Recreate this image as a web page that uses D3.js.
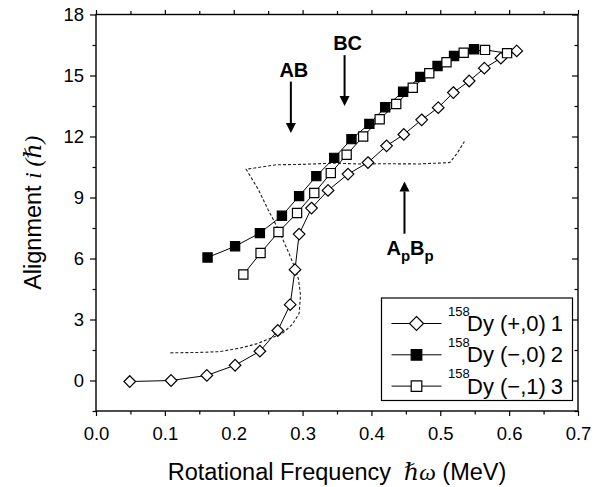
<!DOCTYPE html>
<html>
<head>
<meta charset="utf-8">
<script src="https://cdn.jsdelivr.net/npm/d3@7"></script>
<style>
  body { margin: 0; background: #fff; }
  text { font-family: "Liberation Sans", Arial, sans-serif; fill: #000; }
  .domain { display: none; }
</style>
</head>
<body>
<svg id="chart" width="604" height="487"></svg>
<script>
// 158Dy alignment vs rotational frequency

// band (+,0) 1 - open diamonds
const band1X = [0.049, 0.109, 0.161, 0.202, 0.238, 0.264, 0.282, 0.289, 0.295, 0.313, 0.337, 0.366, 0.395, 0.422, 0.447, 0.473, 0.497, 0.519, 0.542, 0.564, 0.588, 0.611];
const band1Y = [-0.05, 0.0, 0.25, 0.75, 1.44, 2.46, 3.73, 5.45, 7.2, 8.48, 9.35, 10.15, 10.72, 11.54, 12.1, 12.82, 13.42, 14.16, 14.73, 15.36, 15.85, 16.21];

// band (-,0) 2 - filled squares
const band2X = [0.162, 0.202, 0.238, 0.270, 0.295, 0.320, 0.346, 0.371, 0.397, 0.420, 0.446, 0.471, 0.496, 0.520, 0.549];
const band2Y = [6.05, 6.6, 7.25, 8.1, 9.07, 10.05, 10.95, 11.87, 12.62, 13.44, 14.2, 14.93, 15.47, 15.96, 16.29];

// band (-,1) 3 - open squares
const band3X = [0.214, 0.239, 0.265, 0.292, 0.317, 0.341, 0.364, 0.388, 0.412, 0.436, 0.460, 0.484, 0.509, 0.534, 0.565, 0.597];
const band3Y = [5.21, 6.27, 7.30, 8.24, 9.22, 10.2, 11.1, 12.0, 12.85, 13.6, 14.4, 15.11, 15.65, 16.12, 16.26, 16.1];

// dashed reference curve
const dashX = [0.108, 0.15, 0.18, 0.21, 0.233, 0.255, 0.27, 0.285, 0.295, 0.297, 0.294, 0.287, 0.278, 0.265, 0.25, 0.236, 0.218, 0.262, 0.30, 0.345, 0.38, 0.417, 0.47, 0.514, 0.525, 0.535];
const dashY = [1.36, 1.38, 1.42, 1.6, 1.8, 2.1, 2.3, 2.75, 3.3, 4.2, 5.0, 5.7, 6.43, 7.42, 8.4, 9.38, 10.39, 10.61, 10.63, 10.69, 10.65, 10.66, 10.65, 10.72, 11.2, 11.75];

// crossing arrows: x, tail y, tip y
const arrowLabels = ["AB", "BC", "ApBp"];
const arrowX = [0.283, 0.361, 0.448];
const arrowFrom = [14.7, 16.0, 7.22];
const arrowTo = [12.17, 13.5, 9.79];

const legendNames = ["(+,0)", "(\u2212,0)", "(\u2212,1)"];
const legendNums = ["1", "2", "3"];

const xMajor = [0, 0.1, 0.2, 0.3, 0.4, 0.5, 0.6, 0.7];
const xMinor = [0.05, 0.15, 0.25, 0.35, 0.45, 0.55, 0.65];
const yMajor = [0, 3, 6, 9, 12, 15, 18];
const yMinor = [-1.5, 1.5, 4.5, 7.5, 10.5, 13.5, 16.5];

const margin = { top: 14.5, right: 26, bottom: 76, left: 96 };
const W = 604, H = 487;

const svg = d3.select('#chart');

const x = d3.scaleLinear().domain([0, 0.7]).range([margin.left, W - margin.right]);
const y = d3.scaleLinear().domain([-1.5, 18]).range([H - margin.bottom, margin.top]);

const x0 = x.range()[0], x1 = x.range()[1];
const y0 = y.range()[0], y1 = y.range()[1];

// axes
function styleTicks(g) {
    g.selectAll('.tick line').attr('stroke', '#000').attr('stroke-width', 1.2);
}

svg.append('g').attr('transform', `translate(0,${y0})`)
    .call(d3.axisBottom(x).tickValues(xMajor).tickSize(5).tickPadding(11).tickFormat(d3.format('.1f')))
    .call(styleTicks)
    .selectAll('text').attr('font-size', 18.5).attr('font-family', '"Liberation Sans", Arial, sans-serif');
svg.append('g').attr('transform', `translate(0,${y0})`)
    .call(d3.axisBottom(x).tickValues(xMinor).tickSize(3.5).tickFormat(''))
    .call(styleTicks);
svg.append('g').attr('transform', `translate(0,${y1})`)
    .call(d3.axisTop(x).tickValues(xMajor).tickSize(4.5).tickFormat(''))
    .call(styleTicks);
svg.append('g').attr('transform', `translate(0,${y1})`)
    .call(d3.axisTop(x).tickValues(xMinor).tickSize(3.5).tickFormat(''))
    .call(styleTicks);

svg.append('g').attr('transform', `translate(${x0},0)`)
    .call(d3.axisLeft(y).tickValues(yMajor).tickSize(6).tickPadding(6))
    .call(styleTicks)
    .selectAll('text').attr('font-size', 18.5).attr('font-family', '"Liberation Sans", Arial, sans-serif');
svg.append('g').attr('transform', `translate(${x0},0)`)
    .call(d3.axisLeft(y).tickValues(yMinor).tickSize(3.5).tickFormat(''))
    .call(styleTicks);
svg.append('g').attr('transform', `translate(${x1},0)`)
    .call(d3.axisRight(y).tickValues(yMajor).tickSize(-6).tickFormat(''))
    .call(styleTicks);
svg.append('g').attr('transform', `translate(${x1},0)`)
    .call(d3.axisRight(y).tickValues(yMinor).tickSize(-3.5).tickFormat(''))
    .call(styleTicks);

// frame
svg.append('rect')
    .attr('x', x0).attr('y', y1)
    .attr('width', x1 - x0).attr('height', y0 - y1)
    .attr('fill', 'none').attr('stroke', '#000').attr('stroke-width', 1.4);

// axis titles
const xTitle = svg.append('text')
    .attr('x', (x0 + x1) / 2).attr('y', 480)
    .attr('text-anchor', 'middle')
    .attr('font-size', 23.5)
    .style('white-space', 'pre');
xTitle.append('tspan').text('Rotational Frequency  ');
xTitle.append('tspan').attr('font-family', '"Liberation Serif", "DejaVu Serif", serif').attr('font-style', 'italic').text('\u210F\u03C9');
xTitle.append('tspan').text(' (MeV)');

const yTitle = svg.append('text')
    .attr('transform', `translate(41,${(y0 + y1) / 2}) rotate(-90)`)
    .attr('text-anchor', 'middle')
    .attr('font-size', 23.5)
    .style('white-space', 'pre');
yTitle.append('tspan').text('Alignment ');
yTitle.append('tspan').attr('font-family', '"Liberation Serif", "DejaVu Serif", serif').attr('font-style', 'italic').text('i (\u210F)');

// dashed curve
const line = d3.line().x(d => x(d[0])).y(d => y(d[1]));
svg.append('path')
    .datum(d3.zip(dashX, dashY))
    .attr('d', line)
    .attr('fill', 'none').attr('stroke', '#222').attr('stroke-width', 1.1)
    .attr('stroke-dasharray', '3,2');

// marker shapes
const diamond = s => `M0,${-s}L${s},0L0,${s}L${-s},0Z`;
const square = s => `M${-s},${-s}H${s}V${s}H${-s}Z`;

const bands = [
    { xs: band1X, ys: band1Y, shape: diamond(5.8), fill: '#fff' },
    { xs: band2X, ys: band2Y, shape: square(4.6), fill: '#000' },
    { xs: band3X, ys: band3Y, shape: square(4.6), fill: '#fff' }
];

bands.forEach(b => {
    const pts = d3.zip(b.xs, b.ys);
    svg.append('path')
        .datum(pts)
        .attr('d', line)
        .attr('fill', 'none').attr('stroke', '#000').attr('stroke-width', 1);
    svg.append('g').selectAll('path')
        .data(pts)
        .join('path')
        .attr('d', b.shape)
        .attr('transform', d => `translate(${x(d[0])},${y(d[1])})`)
        .attr('fill', b.fill).attr('stroke', '#000').attr('stroke-width', 1.2);
});

// arrows (shaft + filled head)
arrowLabels.forEach((lab, i) => {
    const ax = x(arrowX[i]), ya = y(arrowFrom[i]), yb = y(arrowTo[i]);
    const dir = yb > ya ? 1 : -1;
    const hl = 10, hw = 5;
    svg.append('line')
        .attr('x1', ax).attr('x2', ax)
        .attr('y1', ya).attr('y2', yb - dir * hl)
        .attr('stroke', '#000').attr('stroke-width', 2);
    svg.append('path')
        .attr('d', `M${ax},${yb}L${ax - hw},${yb - dir * hl}L${ax + hw},${yb - dir * hl}Z`)
        .attr('fill', '#000');
});

// AB / BC labels above tails
[0, 1].forEach(i => {
    svg.append('text')
        .attr('x', x(arrowX[i]) + 3).attr('y', y(arrowFrom[i]) - 5)
        .attr('text-anchor', 'middle')
        .attr('font-size', 20).attr('font-weight', 'bold')
        .text(arrowLabels[i]);
});

// ApBp label below tail
const ap = svg.append('text')
    .attr('x', x(arrowX[2]) - 18).attr('y', y(arrowFrom[2]) + 21)
    .attr('font-size', 20).attr('font-weight', 'bold');
ap.append('tspan').text('A');
ap.append('tspan').attr('font-size', 15).attr('dy', 6).text('p');
ap.append('tspan').attr('dy', -6).text('B');
ap.append('tspan').attr('font-size', 15).attr('dy', 6).text('p');

// legend
const lg = svg.append('g');
lg.append('rect')
    .attr('x', 381.5).attr('y', 298)
    .attr('width', 191).attr('height', 102.5)
    .attr('fill', '#fff').attr('stroke', '#000').attr('stroke-width', 1.2);

const legendShapes = [diamond(7), square(5.3), square(5.3)];
legendNames.forEach((name, i) => {
    const cy = 323.5 + i * 31.3;
    lg.append('line')
        .attr('x1', 391.5).attr('x2', 441.5).attr('y1', cy).attr('y2', cy)
        .attr('stroke', '#000').attr('stroke-width', 1);
    lg.append('path')
        .attr('d', legendShapes[i])
        .attr('transform', `translate(416.5,${cy})`)
        .attr('fill', bands[i].fill).attr('stroke', '#000').attr('stroke-width', 1.2);
    const t = lg.append('text')
        .attr('x', 448).attr('y', cy + 7.5)
        .attr('font-size', 22);
    t.append('tspan').attr('font-size', 13).attr('dy', -15.5).text('158');
    t.append('tspan').attr('x', 467).attr('dy', 15.5).text('Dy ' + name);
    t.append('tspan').attr('x', 563).attr('text-anchor', 'end').text(legendNums[i]);
});
</script>
</body>
</html>
